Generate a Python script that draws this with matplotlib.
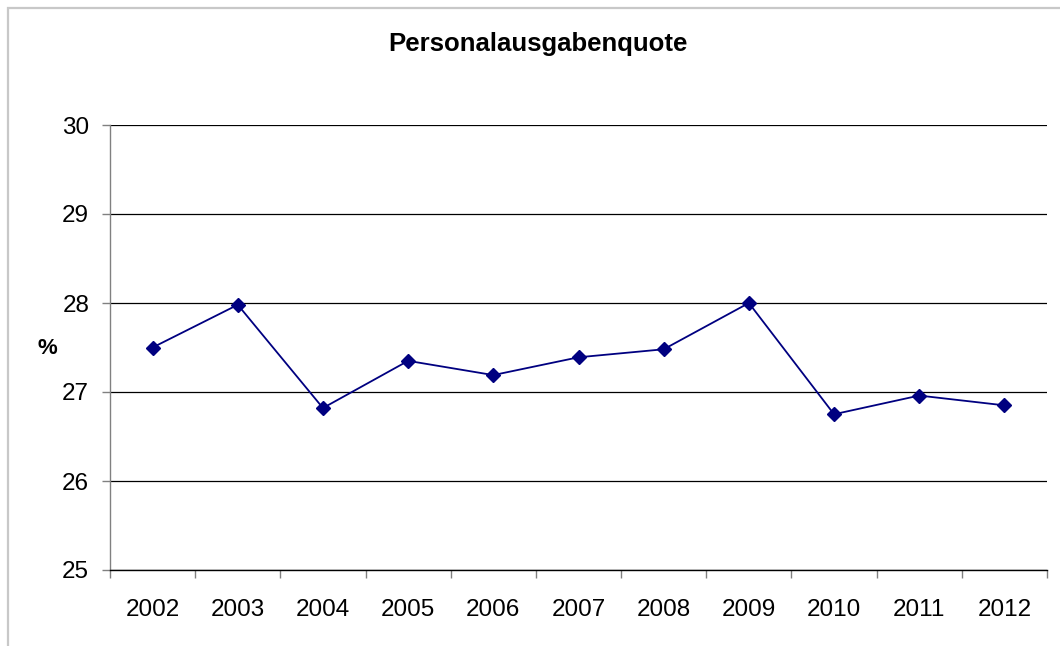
import matplotlib
matplotlib.use("Agg")
import matplotlib.pyplot as plt
from matplotlib.patches import Rectangle

plt.rcParams['font.family'] = ['Liberation Sans', 'DejaVu Sans']

years = ['2002', '2003', '2004', '2005', '2006', '2007', '2008', '2009', '2010', '2011', '2012']
quote = [27.50, 27.98, 26.82, 27.35, 27.19, 27.39, 27.48, 28.00, 26.75, 26.96, 26.85]

fig = plt.figure(figsize=(10.6, 6.46), dpi=100)
ax = fig.add_axes([110 / 1060, 1 - 570 / 646, (1047 - 110) / 1060, (570 - 125) / 646])

# outer chart frame (light gray, cut off at right and bottom)
fig.patches.append(Rectangle((8 / 1060, -0.1), 1.2, 1 - 8 / 646 + 0.1,
                             transform=fig.transFigure, fill=False,
                             edgecolor='#c8c8c8', linewidth=1.6))

x = list(range(len(years)))
ax.plot(x, quote, color='#000080', linewidth=1.3, marker='D', markersize=7.5,
        markerfacecolor='#000080', markeredgecolor='#000080', zorder=3)

ax.set_ylim(25, 30)
ax.set_yticks([25, 26, 27, 28, 29, 30])
ax.yaxis.grid(True, color='#000000', linewidth=0.9)
ax.set_axisbelow(True)
ax.set_xlim(-0.5, len(years) - 0.5)

# category ticks between labels
ax.set_xticks([i - 0.5 for i in range(len(years) + 1)])
ax.set_xticklabels([])
ax.set_xticks(x, minor=True)
ax.set_xticklabels(years, minor=True)
ax.tick_params(axis='x', which='major', direction='out', length=6, color='#808080', width=1)
ax.tick_params(axis='x', which='minor', length=0, labelsize=17.5, pad=21)
ax.tick_params(axis='y', direction='out', length=6, color='#808080', width=1, labelsize=17.5, pad=9)

for side in ['top', 'right']:
    ax.spines[side].set_visible(False)
ax.spines['left'].set_color('#808080')
ax.spines['left'].set_linewidth(1)
ax.spines['bottom'].set_color('#000000')
ax.spines['bottom'].set_linewidth(1)

fig.text(47 / 1060, 1 - 348 / 646, '%', ha='center', va='center',
         fontsize=16, fontweight='bold')
fig.text(538 / 1060, 1 - 44 / 646, 'Personalausgabenquote', ha='center', va='center',
         fontsize=18.5, fontweight='bold')

fig.savefig('out.png', dpi=100)
